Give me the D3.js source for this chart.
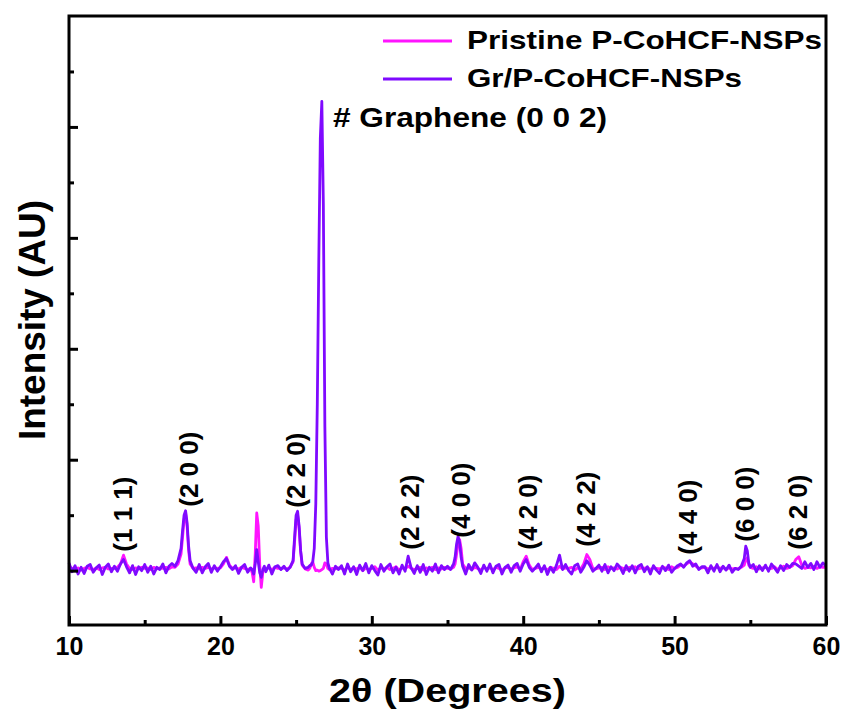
<!DOCTYPE html>
<html><head><meta charset="utf-8">
<script src="https://cdn.jsdelivr.net/npm/d3@7"></script>
<style>
html,body{margin:0;padding:0;background:#fff;}
text{font-family:"Liberation Sans",Arial,Helvetica,sans-serif;font-weight:bold;fill:#000;}
</style></head>
<body><svg id="chart" width="847" height="718"></svg>
<script>
// ---------------- DATA ----------------
const twoTheta = [
  10.0,10.2,10.4,10.6,10.8, 11.0,11.2,11.4,11.6,11.8, 12.0,12.2,12.4,12.6,12.8,
  13.0,13.2,13.4,13.6,13.8, 14.0,14.2,14.4,14.6,14.8, 15.0,15.2,15.4,15.6,15.8,
  16.0,16.2,16.4,16.6,16.8, 17.0,17.2,17.4,17.5,17.6,17.7,17.8,17.9,
  18.0,18.2,18.4,18.6,18.8, 19.0,19.2,19.4,19.6,19.8, 20.0,20.2,20.4,20.6,20.8,
  21.0,21.2,21.4,21.6,21.8, 22.0,22.1,22.2,22.3,22.4,22.5,22.6,22.7,22.8,22.9,
  23.0,23.2,23.4,23.6,23.8, 24.0,24.2,24.4,24.6,24.8,24.9,
  25.0,25.1,25.2,25.3,25.4,25.6,25.8,25.9, 26.0,26.1,26.2,26.3,26.4,26.5,26.6,26.7,26.8,26.9,
  27.0,27.1,27.2,27.4,27.6,27.8, 28.0,28.2,28.4,28.6,28.8, 29.0,29.2,29.4,29.6,29.8,
  30.0,30.2,30.4,30.6,30.8, 31.0,31.2,31.4,31.6,31.8, 32.0,32.2,32.4,32.6,32.8,
  33.0,33.2,33.4,33.6,33.8, 34.0,34.2,34.4,34.6,34.8, 35.0,35.2,35.4,35.5,35.6,35.7,35.8,35.9,
  36.0,36.2,36.4,36.6,36.8, 37.0,37.2,37.4,37.6,37.8, 38.0,38.2,38.4,38.6,38.8,
  39.0,39.2,39.4,39.6,39.8, 40.0,40.2,40.4,40.6,40.8, 41.0,41.2,41.4,41.6,41.8,
  42.0,42.2,42.4,42.6,42.8, 43.0,43.2,43.4,43.6,43.8, 44.0,44.2,44.4,44.6,44.8,
  45.0,45.2,45.4,45.6,45.8, 46.0,46.2,46.4,46.6,46.8, 47.0,47.2,47.4,47.6,47.8,
  48.0,48.2,48.4,48.6,48.8, 49.0,49.2,49.4,49.6,49.8, 50.0,50.2,50.4,50.6,50.8,
  51.0,51.2,51.4,51.6,51.8, 52.0,52.2,52.4,52.6,52.8, 53.0,53.2,53.4,53.6,53.8,
  54.0,54.2,54.4,54.6,54.7,54.8,54.9, 55.0,55.2,55.4,55.6,55.8, 56.0,56.2,56.4,56.6,56.8,
  57.0,57.2,57.4,57.6,57.8, 58.0,58.2,58.4,58.6,58.8, 59.0,59.2,59.4,59.6,59.8, 60.0
];
const pristine = [
  40,20,10,25,5, 20,30,15,10,25, 10,25,30,15,20,
  20,30,60,140,60, 20,10,25,15,30, 20,25,10,30,15,
  25,20,30,15,35, 30,60,150,300,460,520,400,180,
  60,20,25,15,30, 20,30,15,25,20, 25,60,120,50,20,
  25,15,30,20,10, 20,-20,-100,150,520,400,50,-150,-20,20,
  15,25,10,30,20, 20,25,15,30,80,260,
  460,500,380,170,50,15,5,20, 60,80,30,0,5,-5,0,10,20,70,
  60,20,10,20,15,25, 20,5,30,10,25, 15,30,0,25,10,
  20,35,5,25,15, 30,10,20,35,5, 25,15,40,20,10,
  20,30,5,25,15, 30,10,25,15,30, 20,15,30,60,150,240,280,200,
  60,20,25,10,30, 20,5,30,15,25, 10,30,20,5,25,
  30,15,25,35,10, 80,130,50,10,20, 30,15,25,5,30,
  20,10,40,15,25, 20,30,5,25,15, 60,145,100,20,15,
  25,30,10,35,20, 25,15,30,20,10, 30,20,35,15,25,
  20,30,10,25,20, 15,30,25,10,35, 20,30,50,40,60,
  80,60,40,20,25, 30,15,25,20,35, 20,30,10,25,15,
  20,15,30,50,100,117,50, 30,20,35,15,25, 30,15,20,35,10,
  25,40,20,30,45, 100,126,50,20,30, 25,40,20,35,30, 30
];
const grPristine = [
  70,-10,45,-30,30, -25,40,55,-15,25, 50,-35,30,60,-10,
  40,-5,60,100,35, -20,45,-35,35,0, 55,-15,40,-30,30,
  10,60,-20,40,65, 40,90,200,360,500,540,430,220,
  90,20,-15,55,-20, 35,65,-15,45,-5, 35,80,110,40,10,
  45,-25,30,55,-15, 25,10,-30,60,190,80,-20,-60,10,40,
  -10,50,-30,35,45, 10,40,0,30,90,300,
  500,535,400,180,60,20,30,45, 50,80,200,600,1500,2800,3900,4230,3300,1300,
  300,70,20,-30,40,10, 45,-30,60,-10,35, -35,50,0,65,-20,
  45,0,-40,55,-5, 35,60,-20,30,-30, 50,-5,130,25,-25,
  45,-15,55,-35,30, -5,60,-20,45,10, 40,10,60,120,240,310,250,120,
  40,-30,55,5,70, 30,-25,50,-5,60, -20,40,55,-30,30,
  50,-15,45,65,-5, 60,100,30,-5,25, 60,-10,45,-35,30,
  -15,50,140,10,55, 0,-30,45,60,-15, 30,90,50,-5,20,
  50,-5,55,-20,35, 0,60,30,-25,45, -5,45,-20,40,55,
  -10,35,-30,45,5, -25,40,0,50,-15, 20,45,60,30,70,
  90,40,60,10,35, 35,-20,45,-5,55, -10,40,5,50,-15,
  20,10,40,110,220,180,70, 30,55,-10,45,0, 50,-5,60,25,-15,
  45,0,55,30,65, 60,40,20,80,30, 65,10,80,30,70, 40
];
const seriesNames = ["Pristine P-CoHCF-NSPs", "Gr/P-CoHCF-NSPs"];
const seriesColors = ["#ff14ff", "#7f0aff"];

const peakLabels = ["(1 1 1)","(2 0 0)","(2 2 0)","(2 2 2)","(4 0 0)","(4 2 0)","(4 2 2)","(4 4 0)","(6 0 0)","(6 2 0)"];
const peakLabelX = [13.53, 17.9, 24.96, 32.52, 35.86, 40.28, 44.11, 50.85, 54.65, 58.12];
const peakLabelY = [171, 576, 567, 189, 297, 189, 216, 144, 261, 189];
const annotationText = "# Graphene (0 0 2)";

const xMajorTicks = [10,20,30,40,50,60];
const xMinorTicks = [15,25,35,45,55];
const yMajorTicks = [0,1000,2000,3000,4000];
const yMinorTicks = [500,1500,2500,3500,4500];

// ---------------- CHART ----------------
const svg = d3.select("#chart");
const L = 69, R = 826, T = 16, B = 625;
const x = d3.scaleLinear().domain([10,60]).range([L,R]);
const y = d3.scaleLinear().domain([-490,5000]).range([B,T]);

// data lines
const series = [pristine, grPristine];
const line = d3.line().x((d,i)=>x(twoTheta[i])).y(d=>y(d));
series.forEach((s,k)=>{
  svg.append("path").datum(s).attr("d", line)
    .attr("fill","none").attr("stroke",seriesColors[k])
    .attr("stroke-width",2.8).attr("stroke-linejoin","round");
});

// axes
const xAxisMaj = d3.axisBottom(x).tickValues(xMajorTicks).tickSize(-9).tickPadding(12).tickFormat(d3.format("d"));
const xAxisMin = d3.axisBottom(x).tickValues(xMinorTicks).tickSize(-5).tickFormat("");
const yAxisMaj = d3.axisLeft(y).tickValues(yMajorTicks).tickSize(-9).tickFormat("");
const yAxisMin = d3.axisLeft(y).tickValues(yMinorTicks).tickSize(-5).tickFormat("");
[xAxisMaj,xAxisMin].forEach(a=>{
  const g = svg.append("g").attr("transform",`translate(0,${B})`).call(a);
  g.select(".domain").remove();
  g.selectAll("line").attr("stroke","#000").attr("stroke-width",3);
  g.selectAll("text").attr("font-size",25).style("font-family","'Liberation Sans',Arial,sans-serif").style("font-weight","bold");
});
[yAxisMaj,yAxisMin].forEach(a=>{
  const g = svg.append("g").attr("transform",`translate(${L},0)`).call(a);
  g.select(".domain").remove();
  g.selectAll("line").attr("stroke","#000").attr("stroke-width",3);
});
svg.append("rect").attr("x",L).attr("y",T).attr("width",R-L).attr("height",B-T)
  .attr("fill","none").attr("stroke","#000").attr("stroke-width",3);

// axis titles
svg.append("text").attr("x",(L+R)/2).attr("y",702).attr("text-anchor","middle")
  .attr("font-size",33).attr("textLength",237).attr("lengthAdjust","spacingAndGlyphs")
  .text("2\u03B8 (Degrees)");
svg.append("text").attr("transform","translate(45,320) rotate(-90)").attr("text-anchor","middle")
  .attr("font-size",36).attr("textLength",240).attr("lengthAdjust","spacingAndGlyphs")
  .text("Intensity (AU)");

// peak labels
svg.selectAll("text.peak").data(peakLabels).enter().append("text").attr("class","peak")
  .attr("transform",(d,i)=>`translate(${x(peakLabelX[i])},${y(peakLabelY[i])}) rotate(-90)`)
  .attr("dy","0.36em").attr("font-size",26).text(d=>d);

// annotation
svg.append("text").attr("x",333).attr("y",127).attr("font-size",28)
  .attr("textLength",274).attr("lengthAdjust","spacingAndGlyphs").text(annotationText);

// legend
const legY = [41,79], legLen = [355,275];
seriesNames.forEach((n,k)=>{
  svg.append("line").attr("x1",383).attr("x2",452).attr("y1",legY[k]).attr("y2",legY[k])
    .attr("stroke",seriesColors[k]).attr("stroke-width",3);
  svg.append("text").attr("x",467).attr("y",legY[k]+8).attr("font-size",25)
    .attr("textLength",legLen[k]).attr("lengthAdjust","spacingAndGlyphs").text(n);
});
</script></body></html>
